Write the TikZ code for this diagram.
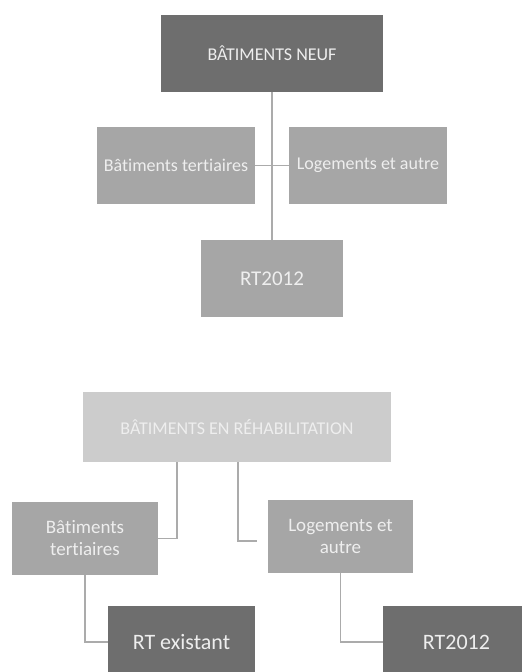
\documentclass[tikz,border=0pt]{standalone}
\usepackage{fontspec}
\setmainfont{Carlito}[Ligatures={NoCommon}]
\definecolor{darkfill}{HTML}{6E6E6E}
\definecolor{midfill}{HTML}{A6A6A6}
\definecolor{lightfill}{HTML}{CCCCCC}
\definecolor{linegray}{HTML}{ABABAB}
\definecolor{txtlight}{HTML}{EEEEEE}
\tikzset{
  boxbase/.style={draw=none, inner sep=0pt, align=center, text=txtlight},
  darkbox/.style={boxbase, fill=darkfill},
  midbox/.style={boxbase, fill=midfill},
  lightbox/.style={boxbase, fill=lightfill},
  conn/.style={draw=linegray, line width=1.6pt},
}
\begin{document}
\begin{tikzpicture}[x=1pt,y=-1pt]
\useasboundingbox (0,0) rectangle (522,672);
\fill[white] (0,0) rectangle (522,672);
% upper chart
\node[darkbox, minimum width=222, minimum height=77, font=\fontsize{18}{20}\selectfont] (top) at (272,53.5) {BÂTIMENTS NEUF};
\node[midbox, minimum width=158, minimum height=77, font=\fontsize{18}{20}\selectfont] (lt) at (176,165.5) {Bâtiments tertiaires};
\node[midbox, minimum width=158, minimum height=77, font=\fontsize{18}{20}\selectfont] (rt) at (368,165.5) {Logements et autre};
\node[midbox, minimum width=142, minimum height=77, font=\fontsize{21}{24}\selectfont] (rtA) at (272,278.5) {RT2012};
\draw[conn] (top.south) -- (rtA.north);
\draw[conn] (lt.east) -- (rt.west);
% lower chart
\node[lightbox, minimum width=308, minimum height=70, font=\fontsize{18}{20}\selectfont] (hdr) at (237,427) {BÂTIMENTS EN RÉHABILITATION};
\node[midbox, minimum width=146, minimum height=73, font=\fontsize{19}{22}\selectfont] (bl) at (85,538.5) {Bâtiments\\tertiaires};
\node[midbox, minimum width=145, minimum height=73, font=\fontsize{19}{22}\selectfont] (br) at (340.5,536.5) {Logements et\\autre};
\node[darkbox, minimum width=147, minimum height=72, font=\fontsize{22}{24}\selectfont] (rtE) at (181.5,642) {RT existant};
\node[darkbox, minimum width=147, minimum height=72, font=\fontsize{22}{24}\selectfont] (rtB) at (456.5,642) {RT2012};
\coordinate (h1) at (177,462);
\coordinate (h2) at (238,462);
\coordinate (e2) at (257,541);
\draw[conn] (h1) |- (bl.east);
\draw[conn] (h2) |- (e2);
\draw[conn] (bl.south) |- (rtE.west);
\draw[conn] (br.south) |- (rtB.west);
\end{tikzpicture}
\end{document}
